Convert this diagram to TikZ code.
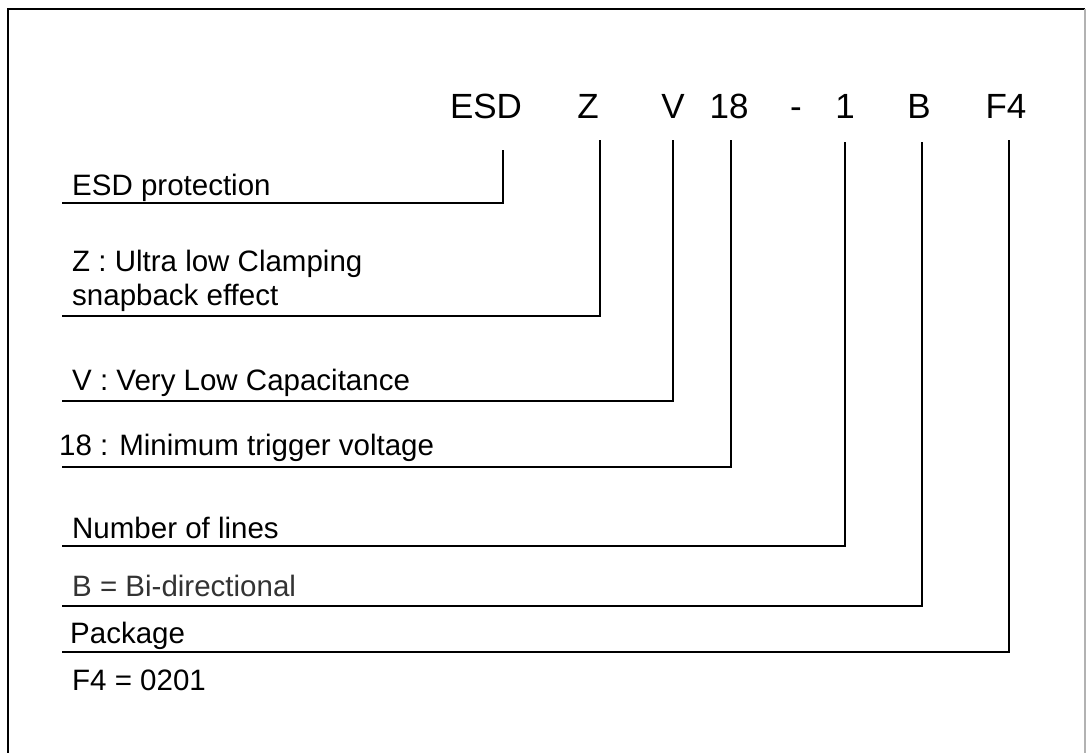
\documentclass[tikz,border=0pt]{standalone}
\usepackage{fontspec}
\setmainfont{Liberation Sans}
\begin{document}
\begin{tikzpicture}[x=1pt,y=-1pt,
  code/.style={anchor=base,inner sep=0pt,font=\fontsize{35}{40}\selectfont},
  lbl/.style={anchor=base west,inner sep=0pt,font=\fontsize{29.5}{34}\selectfont},
  lead/.style={line width=1.6pt,black},
  frame/.style={line width=2pt,black}]
\useasboundingbox (0,0) rectangle (1086,752);
% frame
\draw[frame] (8,760) -- (8,9) -- (1085,9);
\draw[line width=1.5pt,black!30] (1085,9) -- (1085,760);
% code letters
\node[code] (cESD) at (486,118) {ESD};
\node[code] (cZ)   at (588,118) {Z};
\node[code] (cV)   at (673,118) {V};
\node[code] (c18)  at (729,118) {18};
\node[code] (cdash) at (796,118) {-};
\node[code] (c1)   at (845,118) {1};
\node[code] (cB)   at (919,118) {B};
\node[code] (cF4)  at (1006,118) {F4};
% labels
\node[lbl] (lESD) at (72,195) {ESD protection};
\node[lbl] (lZa)  at (72,271) {Z : Ultra low Clamping};
\node[lbl] (lZb)  at (72,305) {snapback effect};
\node[lbl] (lV)   at (72,390) {V : Very Low Capacitance};
\node[lbl] (l18)  at (59,455) {18 : Minimum trigger voltage};
\node[lbl] (l1)   at (72,538) {Number of lines};
\node[lbl,text=black!80] (lB) at (72,596) {B = Bi-directional};
\node[lbl] (lPk)  at (70,643) {Package};
\node[lbl] (lF4)  at (72,690) {F4 = 0201};
% leader coordinates
\coordinate (tESD) at (503,150); \coordinate (eESD) at (62,203);
\coordinate (tZ)   at (600,140); \coordinate (eZ)   at (62,316);
\coordinate (tV)   at (673,140); \coordinate (eV)   at (62,401);
\coordinate (t18)  at (731,140); \coordinate (e18)  at (62,467);
\coordinate (t1)   at (845,142); \coordinate (e1)   at (62,546);
\coordinate (tB)   at (922,142); \coordinate (eB)   at (62,606);
\coordinate (tF4)  at (1009,140); \coordinate (eF4) at (62,652);
\draw[lead] (tESD) |- (eESD);
\draw[lead] (tZ) |- (eZ);
\draw[lead] (tV) |- (eV);
\draw[lead] (t18) |- (e18);
\draw[lead] (t1) |- (e1);
\draw[lead] (tB) |- (eB);
\draw[lead] (tF4) |- (eF4);
\end{tikzpicture}
\end{document}
